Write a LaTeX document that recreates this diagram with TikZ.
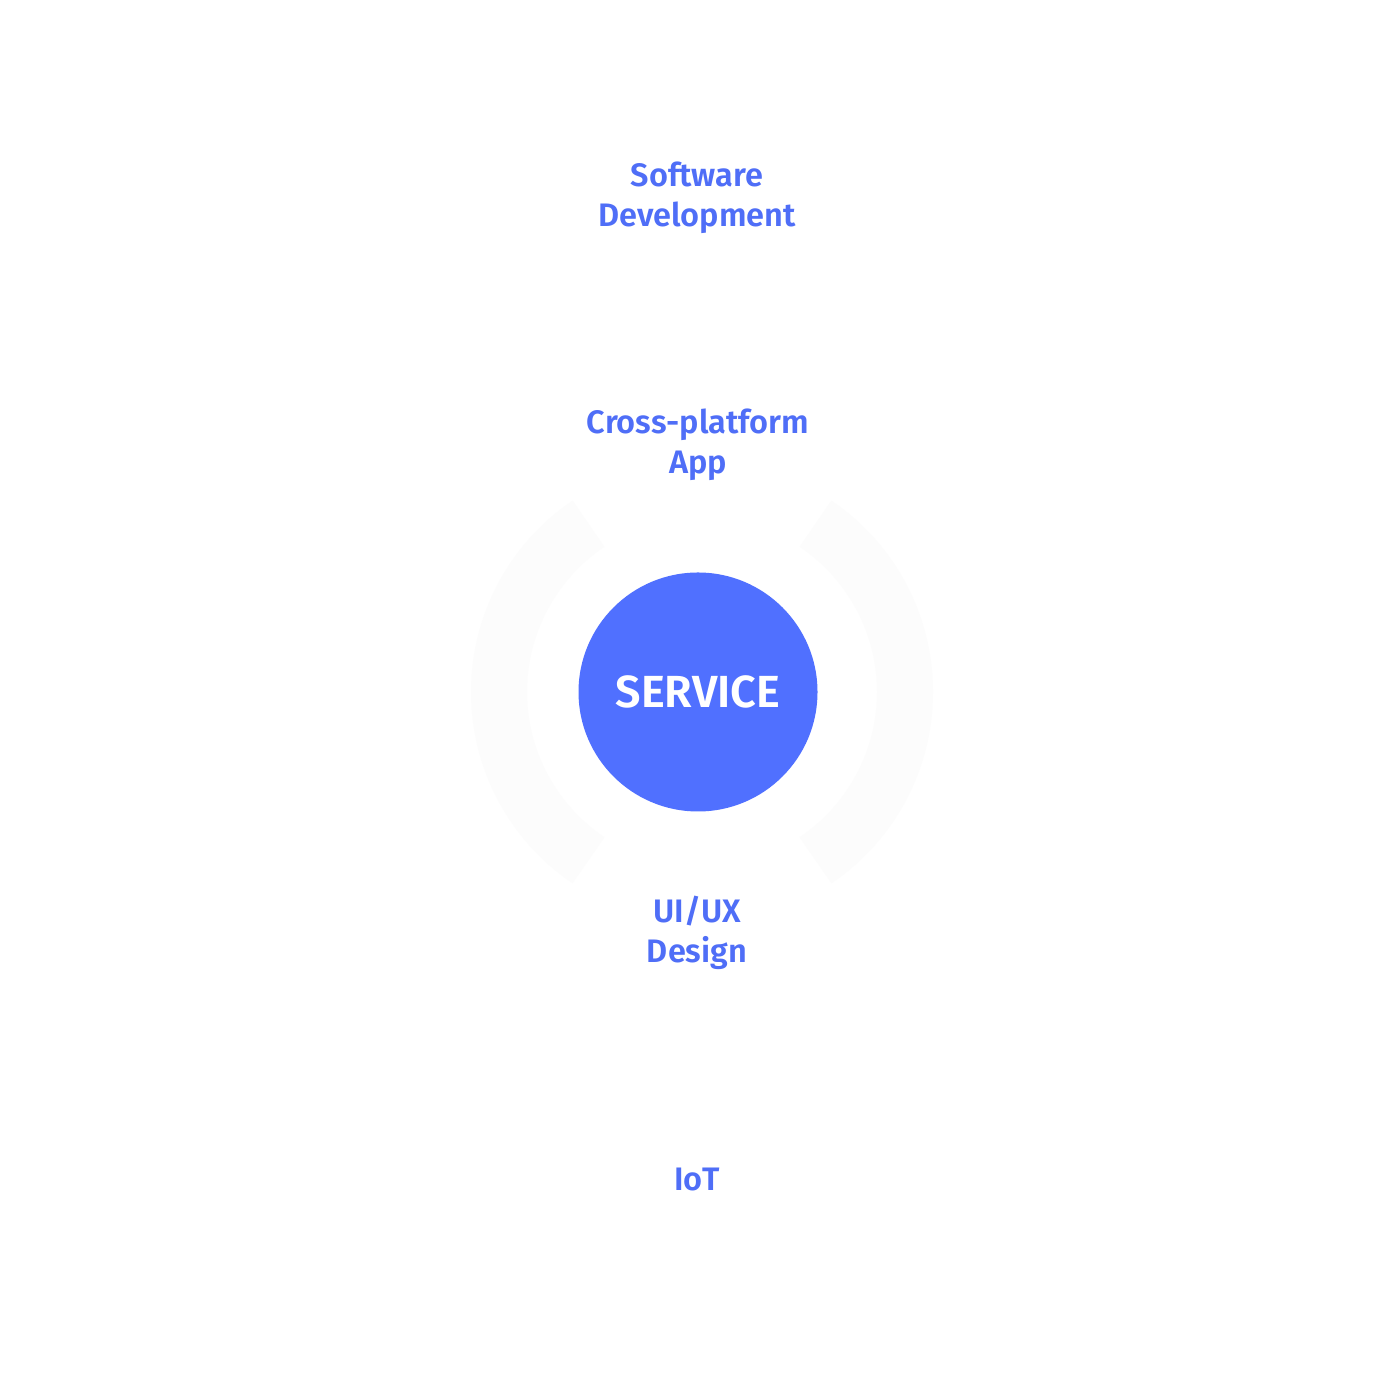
\documentclass[tikz,border=0pt]{standalone}
\usepackage{fontspec}
\setmainfont{Fira Sans}[BoldFont={Fira Sans SemiBold}]
\definecolor{serviceblue}{HTML}{5070FF}
\definecolor{labelblue}{HTML}{4F6EF7}
\definecolor{ringgray}{HTML}{FCFCFC}
\begin{document}
\begin{tikzpicture}[x=1pt, y=1pt,
   label text/.style = {text = labelblue, font = \fontsize{32.5}{40}\selectfont\bfseries, align = center},
   ring arc/.style = {ringgray, line width = 56pt}]
\useasboundingbox (0,0) rectangle (1380,1380);
\fill[white] (0,0) rectangle (1380,1380);

\coordinate (c) at (698,688);
\coordinate (ringc) at (702,688);
\draw[ring arc] (ringc) ++(56:203) arc[start angle = 56, end angle = -56, radius = 203];
\draw[ring arc] (ringc) ++(124:203) arc[start angle = 124, end angle = 236, radius = 203];

\node[circle, fill = serviceblue, minimum size = 239pt, inner sep = 0pt,
      text = white, font = \fontsize{45}{50}\selectfont\bfseries] (service) at (c) {SERVICE};

\node[label text] (software) at (697,1182) {Software\\Development};
\node[label text] (crossapp) at (698,935) {Cross-platform\\App};
\node[label text] (uiux) at (697,447) {UI/UX\\Design};
\node[label text] (iot) at (697,200) {IoT};

\end{tikzpicture}
\end{document}
